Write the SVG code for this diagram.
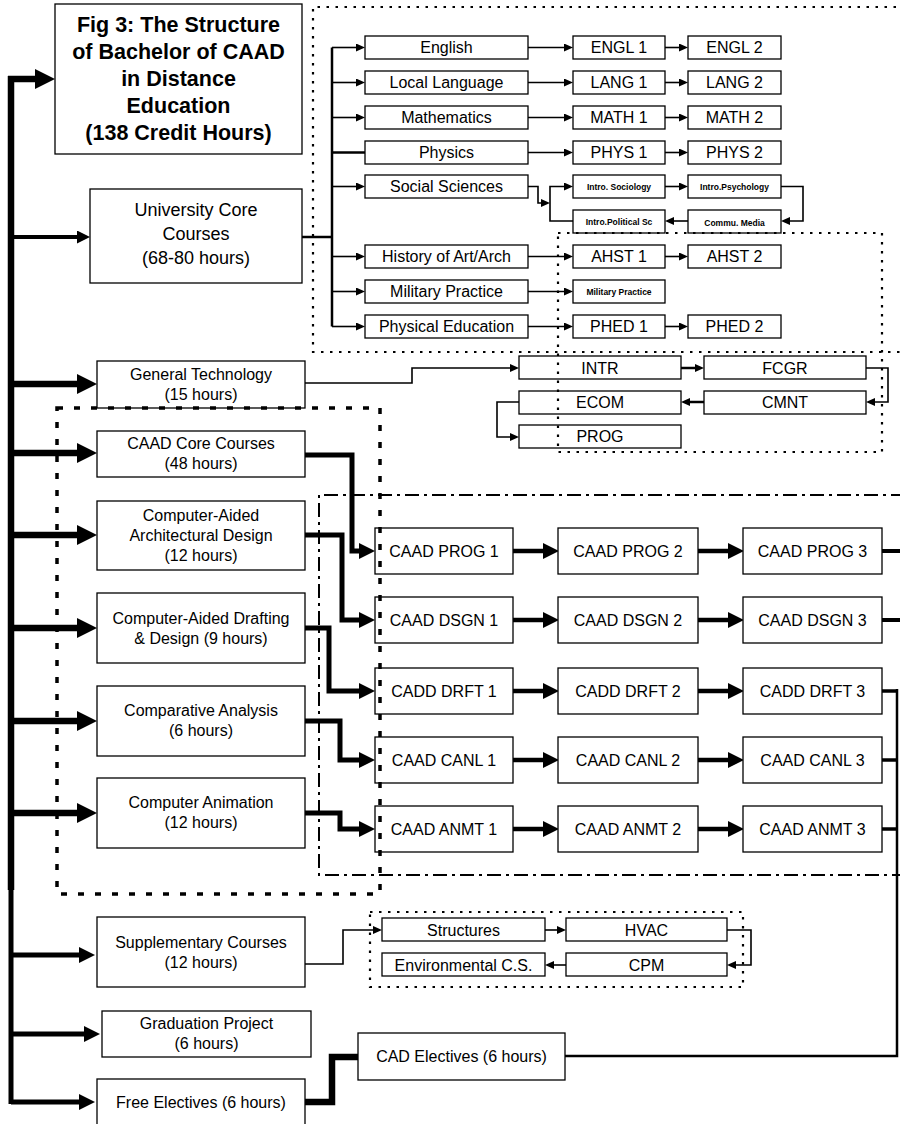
<svg xmlns="http://www.w3.org/2000/svg" width="900" height="1124" viewBox="0 0 900 1124">
<style>
.bx{fill:#fff;stroke:#000;stroke-width:1.3}
.t{font-family:"Liberation Sans",Arial,sans-serif;font-size:16px;text-anchor:middle;fill:#000}
.t18{font-family:"Liberation Sans",Arial,sans-serif;font-size:18px;text-anchor:middle;fill:#000}
.tb{font-family:"Liberation Sans",Arial,sans-serif;font-size:21.5px;font-weight:bold;text-anchor:middle;fill:#000}
.ts{font-family:"Liberation Sans",Arial,sans-serif;font-size:8.5px;font-weight:bold;text-anchor:middle;fill:#000}
.thin{fill:none;stroke:#000;stroke-width:1.6}
.med{fill:none;stroke:#000;stroke-width:2.5}
.thick{fill:none;stroke:#000;stroke-width:5}
.heavy{fill:none;stroke:#000;stroke-width:6.5}
.dots{fill:none;stroke:#000;stroke-width:2.2;stroke-dasharray:2.5 6.5}
.bigdots{fill:none;stroke:#000;stroke-width:3.5;stroke-dasharray:6 11}
.dashdot{fill:none;stroke:#000;stroke-width:2;stroke-dasharray:14 5 3 5}
</style>
<defs>
<marker id="aBig" markerUnits="userSpaceOnUse" markerWidth="20" markerHeight="20" refX="0" refY="10" orient="auto"><path d="M0,0 L20,10 L0,20 z" fill="#000"/></marker>
<marker id="aMid" markerUnits="userSpaceOnUse" markerWidth="16" markerHeight="16" refX="0" refY="8" orient="auto"><path d="M0,0 L16,8 L0,16 z" fill="#000"/></marker>
<marker id="aUC" markerUnits="userSpaceOnUse" markerWidth="13" markerHeight="13" refX="0" refY="6.5" orient="auto"><path d="M0,0 L13,6.5 L0,13 z" fill="#000"/></marker>
<marker id="aS" markerUnits="userSpaceOnUse" markerWidth="9" markerHeight="8" refX="0" refY="4" orient="auto"><path d="M0,0 L9,4 L0,8 z" fill="#000"/></marker>
</defs>
<rect width="900" height="1124" fill="#fff"/>

<g id="connectors">
<path class="heavy" d="M11,76 V890"/>
<path class="thick" d="M11,888 V1104"/>
<path class="heavy" d="M8,79 H35" marker-end="url(#aBig)"/>
<path class="med" style="stroke-width:4" d="M11,237 H77" marker-end="url(#aUC)"/>
<path class="heavy" d="M11,384 H77" marker-end="url(#aBig)"/>
<path class="heavy" d="M11,453 H77" marker-end="url(#aBig)"/>
<path class="heavy" d="M11,535 H77" marker-end="url(#aBig)"/>
<path class="heavy" d="M11,628 H77" marker-end="url(#aBig)"/>
<path class="heavy" d="M11,721 H77" marker-end="url(#aBig)"/>
<path class="heavy" d="M11,813 H77" marker-end="url(#aBig)"/>
<path class="thick" d="M11,955 H79" marker-end="url(#aMid)"/>
<path class="thick" d="M11,1034 H84" marker-end="url(#aMid)"/>
<path class="thick" d="M11,1102 H79" marker-end="url(#aMid)"/>

<path class="med" d="M302,237 H332"/>
<path class="med" d="M332,47.5 V326.5"/>
<path class="thin" d="M332,47.5 H356" marker-end="url(#aS)"/>
<path class="thin" d="M332,82.5 H356" marker-end="url(#aS)"/>
<path class="thin" d="M332,117.5 H356" marker-end="url(#aS)"/>
<path class="med" d="M332,152.5 H365"/>
<path class="thin" d="M332,186.5 H356" marker-end="url(#aS)"/>
<path class="thin" d="M332,256.5 H356" marker-end="url(#aS)"/>
<path class="thin" d="M332,291.5 H356" marker-end="url(#aS)"/>
<path class="thin" d="M332,326.5 H356" marker-end="url(#aS)"/>

<path class="thin" d="M528,47.5 H564" marker-end="url(#aS)"/>
<path class="thin" d="M528,82.5 H564" marker-end="url(#aS)"/>
<path class="thin" d="M528,117.5 H564" marker-end="url(#aS)"/>
<path class="thin" d="M528,152.5 H564" marker-end="url(#aS)"/>
<path class="thin" d="M528,256.5 H564" marker-end="url(#aS)"/>
<path class="thin" d="M528,291.5 H564" marker-end="url(#aS)"/>
<path class="thin" d="M528,326.5 H564" marker-end="url(#aS)"/>
<path class="thin" d="M665,47.5 H679" marker-end="url(#aS)"/>
<path class="thin" d="M665,82.5 H679" marker-end="url(#aS)"/>
<path class="thin" d="M665,117.5 H679" marker-end="url(#aS)"/>
<path class="thin" d="M665,152.5 H679" marker-end="url(#aS)"/>
<path class="thin" d="M665,256.5 H679" marker-end="url(#aS)"/>
<path class="thin" d="M665,326.5 H679" marker-end="url(#aS)"/>

<path class="thin" d="M528,186.5 H538 V203 H541" marker-end="url(#aS)"/>
<path class="thin" d="M573,221 H550 V186.5 H564" marker-end="url(#aS)"/>
<path class="thin" d="M665,186.5 H679" marker-end="url(#aS)"/>
<path class="thin" d="M781,186.5 H803 V221 H790" marker-end="url(#aS)"/>
<path class="thin" d="M688,221 H674" marker-end="url(#aS)"/>

<path class="thin" d="M305,383 H412 V368 H510" marker-end="url(#aS)"/>
<path class="med" d="M681,368 H695" marker-end="url(#aS)"/>
<path class="thin" d="M866,368 H888 V402 H875" marker-end="url(#aS)"/>
<path class="med" d="M704,402 H690" marker-end="url(#aS)"/>
<path class="thin" d="M519,402 H497 V437 H510" marker-end="url(#aS)"/>

<path class="thick" d="M305,455 H352 V551 H359" marker-end="url(#aMid)"/>
<path class="thick" d="M305,535 H342 V620 H359" marker-end="url(#aMid)"/>
<path class="thick" d="M305,628 H329 V691 H359" marker-end="url(#aMid)"/>
<path class="thick" d="M305,721 H340 V760 H359" marker-end="url(#aMid)"/>
<path class="thick" d="M305,813 H340 V829 H359" marker-end="url(#aMid)"/>

<path class="thick" style="stroke-width:4.5" d="M513,551 H543" marker-end="url(#aMid)"/>
<path class="thick" style="stroke-width:4.5" d="M513,620 H543" marker-end="url(#aMid)"/>
<path class="thick" style="stroke-width:4.5" d="M513,691 H543" marker-end="url(#aMid)"/>
<path class="thick" style="stroke-width:4.5" d="M513,760 H543" marker-end="url(#aMid)"/>
<path class="thick" style="stroke-width:4.5" d="M513,829 H543" marker-end="url(#aMid)"/>
<path class="thick" style="stroke-width:4.5" d="M698,551 H728" marker-end="url(#aMid)"/>
<path class="thick" style="stroke-width:4.5" d="M698,620 H728" marker-end="url(#aMid)"/>
<path class="thick" style="stroke-width:4.5" d="M698,691 H728" marker-end="url(#aMid)"/>
<path class="thick" style="stroke-width:4.5" d="M698,760 H728" marker-end="url(#aMid)"/>
<path class="thick" style="stroke-width:4.5" d="M698,829 H728" marker-end="url(#aMid)"/>
<path class="med" style="stroke-width:4" d="M882,551 H905"/>
<path class="med" style="stroke-width:4" d="M882,620 H905"/>
<path class="med" style="stroke-width:3.5" d="M882,691 H897"/>
<path class="med" style="stroke-width:3.5" d="M882,760 H897"/>
<path class="med" style="stroke-width:3.5" d="M882,829 H897"/>
<path class="med" d="M897,689 V1056 H565"/>

<path class="thin" d="M305,964 H343 V930 H373" marker-end="url(#aS)"/>
<path class="thin" d="M545,930 H557" marker-end="url(#aS)"/>
<path class="thin" d="M727,930 H751 V965 H736" marker-end="url(#aS)"/>
<path class="thin" d="M566,965 H554" marker-end="url(#aS)"/>

<path class="heavy" d="M305,1102 H332 V1057 H358"/>
</g>

<g id="title"><rect class="bx" x="55" y="4" width="247" height="150"/>
<text class="tb" x="178.5" y="32">Fig 3: The Structure</text>
<text class="tb" x="178.5" y="59">of Bachelor of CAAD</text>
<text class="tb" x="178.5" y="86">in Distance</text>
<text class="tb" x="178.5" y="113">Education</text>
<text class="tb" x="178.5" y="140">(138 Credit Hours)</text></g>

<g id="univ-core"><rect class="bx" x="90" y="189" width="212" height="94"/>
<text class="t18" x="196" y="216">University Core</text>
<text class="t18" x="196" y="240">Courses</text>
<text class="t18" x="196" y="264">(68-80 hours)</text></g>

<g id="english"><rect class="bx" x="365" y="36" width="163" height="23"/><text class="t" x="446.5" y="53">English</text></g>
<g id="local-language"><rect class="bx" x="365" y="71" width="163" height="23"/><text class="t" x="446.5" y="88">Local Language</text></g>
<g id="mathematics"><rect class="bx" x="365" y="106" width="163" height="23"/><text class="t" x="446.5" y="123">Mathematics</text></g>
<g id="physics"><rect class="bx" x="365" y="141" width="163" height="23"/><text class="t" x="446.5" y="158">Physics</text></g>
<g id="social-sciences"><rect class="bx" x="365" y="175" width="163" height="23"/><text class="t" x="446.5" y="192">Social Sciences</text></g>
<g id="history"><rect class="bx" x="365" y="245" width="163" height="23"/><text class="t" x="446.5" y="262">History of Art/Arch</text></g>
<g id="military"><rect class="bx" x="365" y="280" width="163" height="23"/><text class="t" x="446.5" y="297">Military Practice</text></g>
<g id="physical-education"><rect class="bx" x="365" y="315" width="163" height="23"/><text class="t" x="446.5" y="332">Physical Education</text></g>

<g id="engl1"><rect class="bx" x="573" y="36" width="92" height="23"/><text class="t" x="619" y="53">ENGL 1</text></g>
<g id="engl2"><rect class="bx" x="688" y="36" width="93" height="23"/><text class="t" x="734.5" y="53">ENGL 2</text></g>
<g id="lang1"><rect class="bx" x="573" y="71" width="92" height="23"/><text class="t" x="619" y="88">LANG 1</text></g>
<g id="lang2"><rect class="bx" x="688" y="71" width="93" height="23"/><text class="t" x="734.5" y="88">LANG 2</text></g>
<g id="math1"><rect class="bx" x="573" y="106" width="92" height="23"/><text class="t" x="619" y="123">MATH 1</text></g>
<g id="math2"><rect class="bx" x="688" y="106" width="93" height="23"/><text class="t" x="734.5" y="123">MATH 2</text></g>
<g id="phys1"><rect class="bx" x="573" y="141" width="92" height="23"/><text class="t" x="619" y="158">PHYS 1</text></g>
<g id="phys2"><rect class="bx" x="688" y="141" width="93" height="23"/><text class="t" x="734.5" y="158">PHYS 2</text></g>
<g id="intro-sociology"><rect class="bx" x="573" y="175" width="92" height="23"/><text class="ts" x="619" y="189.5">Intro. Sociology</text></g>
<g id="intro-psychology"><rect class="bx" x="688" y="175" width="93" height="23"/><text class="ts" x="734.5" y="189.5">Intro.Psychology</text></g>
<g id="intro-political"><rect class="bx" x="573" y="210" width="92" height="23"/><text class="ts" x="619" y="224.5">Intro.Political Sc</text></g>
<g id="commu-media"><rect class="bx" x="688" y="210" width="93" height="23"/><text class="ts" x="734.5" y="225.5">Commu. Media</text></g>
<g id="ahst1"><rect class="bx" x="573" y="245" width="92" height="23"/><text class="t" x="619" y="262">AHST 1</text></g>
<g id="ahst2"><rect class="bx" x="688" y="245" width="93" height="23"/><text class="t" x="734.5" y="262">AHST 2</text></g>
<g id="military-practice"><rect class="bx" x="573" y="280" width="92" height="23"/><text class="ts" x="619" y="294.5">Military Practice</text></g>
<g id="phed1"><rect class="bx" x="573" y="315" width="92" height="23"/><text class="t" x="619" y="332">PHED 1</text></g>
<g id="phed2"><rect class="bx" x="688" y="315" width="93" height="23"/><text class="t" x="734.5" y="332">PHED 2</text></g>

<g id="general-technology"><rect class="bx" x="97" y="361" width="208" height="47"/>
<text class="t" x="201" y="380">General Technology</text><text class="t" x="201" y="400">(15 hours)</text></g>
<g id="intr"><rect class="bx" x="519" y="356" width="162" height="23"/><text class="t" x="600" y="373.5">INTR</text></g>
<g id="fcgr"><rect class="bx" x="704" y="356" width="162" height="23"/><text class="t" x="785" y="373.5">FCGR</text></g>
<g id="ecom"><rect class="bx" x="519" y="391" width="162" height="23"/><text class="t" x="600" y="408">ECOM</text></g>
<g id="cmnt"><rect class="bx" x="704" y="391" width="162" height="23"/><text class="t" x="785" y="408">CMNT</text></g>
<g id="prog"><rect class="bx" x="519" y="425" width="162" height="23"/><text class="t" x="600" y="442">PROG</text></g>

<g id="caad-core"><rect class="bx" x="97" y="431" width="208" height="46"/>
<text class="t" x="201" y="449">CAAD Core Courses</text><text class="t" x="201" y="469">(48 hours)</text></g>
<g id="ca-arch-design"><rect class="bx" x="97" y="501" width="208" height="69"/>
<text class="t" x="201" y="521">Computer-Aided</text><text class="t" x="201" y="541">Architectural Design</text><text class="t" x="201" y="561">(12 hours)</text></g>
<g id="ca-drafting"><rect class="bx" x="97" y="593" width="208" height="70"/>
<text class="t" x="201" y="624">Computer-Aided Drafting</text><text class="t" x="201" y="644">&amp; Design (9 hours)</text></g>
<g id="comparative"><rect class="bx" x="97" y="686" width="208" height="70"/>
<text class="t" x="201" y="716">Comparative Analysis</text><text class="t" x="201" y="736">(6 hours)</text></g>
<g id="animation"><rect class="bx" x="97" y="778" width="208" height="70"/>
<text class="t" x="201" y="808">Computer Animation</text><text class="t" x="201" y="828">(12 hours)</text></g>

<g id="caad-prog1"><rect class="bx" x="375" y="528" width="138" height="46"/><text class="t" x="444" y="556.5">CAAD PROG 1</text></g>
<g id="caad-prog2"><rect class="bx" x="558" y="528" width="140" height="46"/><text class="t" x="628" y="556.5">CAAD PROG 2</text></g>
<g id="caad-prog3"><rect class="bx" x="743" y="528" width="139" height="46"/><text class="t" x="812.5" y="556.5">CAAD PROG 3</text></g>
<g id="caad-dsgn1"><rect class="bx" x="375" y="597" width="138" height="46"/><text class="t" x="444" y="625.5">CAAD DSGN 1</text></g>
<g id="caad-dsgn2"><rect class="bx" x="558" y="597" width="140" height="46"/><text class="t" x="628" y="625.5">CAAD DSGN 2</text></g>
<g id="caad-dsgn3"><rect class="bx" x="743" y="597" width="139" height="46"/><text class="t" x="812.5" y="625.5">CAAD DSGN 3</text></g>
<g id="cadd-drft1"><rect class="bx" x="375" y="668" width="138" height="46"/><text class="t" x="444" y="696.5">CADD DRFT 1</text></g>
<g id="cadd-drft2"><rect class="bx" x="558" y="668" width="140" height="46"/><text class="t" x="628" y="696.5">CADD DRFT 2</text></g>
<g id="cadd-drft3"><rect class="bx" x="743" y="668" width="139" height="46"/><text class="t" x="812.5" y="696.5">CADD DRFT 3</text></g>
<g id="caad-canl1"><rect class="bx" x="375" y="737" width="138" height="46"/><text class="t" x="444" y="765.5">CAAD CANL 1</text></g>
<g id="caad-canl2"><rect class="bx" x="558" y="737" width="140" height="46"/><text class="t" x="628" y="765.5">CAAD CANL 2</text></g>
<g id="caad-canl3"><rect class="bx" x="743" y="737" width="139" height="46"/><text class="t" x="812.5" y="765.5">CAAD CANL 3</text></g>
<g id="caad-anmt1"><rect class="bx" x="375" y="806" width="138" height="46"/><text class="t" x="444" y="834.5">CAAD ANMT 1</text></g>
<g id="caad-anmt2"><rect class="bx" x="558" y="806" width="140" height="46"/><text class="t" x="628" y="834.5">CAAD ANMT 2</text></g>
<g id="caad-anmt3"><rect class="bx" x="743" y="806" width="139" height="46"/><text class="t" x="812.5" y="834.5">CAAD ANMT 3</text></g>

<g id="supplementary"><rect class="bx" x="97" y="917" width="208" height="70"/>
<text class="t" x="201" y="948">Supplementary Courses</text><text class="t" x="201" y="968">(12 hours)</text></g>
<g id="structures"><rect class="bx" x="382" y="918" width="163" height="23"/><text class="t" x="463.5" y="935.5">Structures</text></g>
<g id="hvac"><rect class="bx" x="566" y="918" width="161" height="23"/><text class="t" x="646.5" y="935.5">HVAC</text></g>
<g id="environmental"><rect class="bx" x="382" y="953" width="163" height="23"/><text class="t" x="463.5" y="970.5">Environmental C.S.</text></g>
<g id="cpm"><rect class="bx" x="566" y="953" width="161" height="23"/><text class="t" x="646.5" y="970.5">CPM</text></g>

<g id="graduation"><rect class="bx" x="102" y="1011" width="209" height="46"/>
<text class="t" x="206.5" y="1029">Graduation Project</text><text class="t" x="206.5" y="1049">(6 hours)</text></g>
<g id="free-electives"><rect class="bx" x="97" y="1079" width="208" height="52"/>
<text class="t" x="201" y="1108">Free Electives (6 hours)</text></g>
<g id="cad-electives"><rect class="bx" x="358" y="1033" width="207" height="47"/>
<text class="t" x="461.5" y="1062">CAD Electives (6 hours)</text></g>

<g id="groups">
<path class="dots" d="M905,7 H313 V352 H905"/>
<rect class="dots" x="558" y="233" width="324" height="219"/>
<rect class="bigdots" x="57" y="408" width="323" height="486"/>
<path class="dashdot" d="M905,495 H319 V875 H905"/>
<rect class="dots" x="370" y="912" width="373" height="75"/>
</g>
</svg>
